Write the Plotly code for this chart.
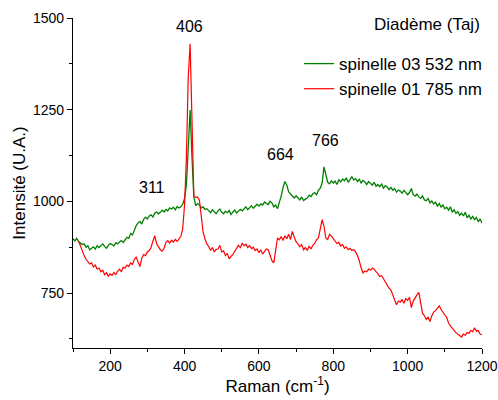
import plotly.graph_objects as go

green_x = list(range(100, 1205, 5))
green_y = [
    898, 892, 899, 890, 886, 882, 884, 875, 879, 868,
    872, 876, 870, 879, 874, 878, 884, 877, 872, 880,
    885, 882, 878, 887, 884, 889, 893, 888, 897, 902,
    899, 912, 908, 922, 934, 941, 945, 938, 951, 957,
    952, 960, 963, 957, 968, 971, 966, 970, 976, 971,
    978, 974, 982, 979, 984, 977, 986, 982, 985, 992,
    1008, 1045, 1160, 1249, 1120, 1012, 988, 994, 990, 982,
    985, 978, 980, 973, 969, 977, 971, 966, 974, 979,
    970, 966, 973, 969, 975, 964, 971, 976, 968, 972,
    978, 974, 980, 985, 977, 983, 988, 981, 986, 992,
    987, 993, 990, 998, 994, 991, 1000, 996, 985, 990,
    980, 996, 1015, 1038, 1054, 1044, 1026, 1020, 1014, 1009,
    1015, 1008, 1004, 1012, 1002, 1006, 1009, 1017, 1013, 1020,
    1024, 1018, 1030, 1036, 1050, 1094, 1068, 1052, 1048, 1056,
    1050, 1055, 1046, 1059, 1053, 1061, 1056, 1064, 1052, 1060,
    1067, 1058, 1062, 1054, 1060, 1050, 1057, 1053, 1046, 1054,
    1049, 1044, 1052, 1041, 1046, 1040, 1047, 1036, 1043, 1039,
    1032, 1038, 1030, 1035, 1025, 1031, 1028, 1022, 1030, 1024,
    1018, 1024, 1035, 1018, 1014, 1020, 1012, 1008, 1015, 1004,
    1002, 1008, 996, 1001, 993, 998, 987, 994, 984, 990,
    980, 984, 976, 985, 970, 977, 967, 972, 962, 968,
    960, 970, 955, 962, 952, 959, 950, 956, 944, 952,
    940,
]

red_x = list(range(115, 1205, 5))
red_y = [
    892, 878, 862, 852, 842, 836, 829, 832, 821, 826,
    815, 818, 808, 812, 800, 805, 796, 802, 798, 806,
    800, 810, 815, 808, 820, 818, 826, 822, 832, 828,
    842, 848, 836, 822, 845, 855, 852, 862, 866, 874,
    892, 906, 884, 874, 868, 864, 872, 888, 893, 886,
    894, 889, 896, 891, 897, 904, 925, 990, 1120, 1340,
    1430, 1180, 1015, 1010, 1012, 1003, 965, 915, 898, 884,
    877, 866, 874, 862, 869, 870, 880, 862, 865, 852,
    858, 843, 850, 855, 864, 872, 880, 874, 886, 879,
    883, 874, 879, 871, 875, 866, 870, 860, 868, 856,
    862, 870, 868, 850, 838, 832, 870, 900, 895, 904,
    893, 906, 898, 910, 896, 918, 902, 890, 884, 876,
    882, 868, 874, 866, 878, 870, 880, 885, 895, 900,
    925, 950, 932, 900, 896, 910, 905, 898, 892, 885,
    888, 878, 882, 872, 876, 868, 872, 866, 868, 862,
    852, 838, 818, 805, 810, 808, 815, 812, 818, 815,
    808, 803, 795, 797, 789, 782, 772, 763, 758, 745,
    730, 718, 728, 725, 732, 722, 735, 730, 738, 710,
    728, 738, 745, 752, 720, 695, 688, 678, 684, 672,
    688, 698, 702, 710, 715, 705, 696, 690, 684, 668,
    660, 655, 648, 642, 638, 632, 630, 638, 635, 642,
    640, 648, 644, 655, 646, 648, 638, 636,
]

peak_labels = ["406", "311", "664", "766"]
peak_label_x = [413, 312, 657, 780]
peak_label_y = [1478, 1039, 1129, 1167]

FONT = "Liberation Sans, Arial, sans-serif"

fig = go.Figure()
fig.add_trace(go.Scatter(x=green_x, y=green_y, mode="lines", name="spinelle 03 532 nm",
                         line=dict(color="#008000", width=1.3)))
fig.add_trace(go.Scatter(x=red_x, y=red_y, mode="lines", name="spinelle 01 785 nm",
                         line=dict(color="#ff0000", width=1.2)))

for t, xx, yy in zip(peak_labels, peak_label_x, peak_label_y):
    fig.add_annotation(x=xx, y=yy, text=t, showarrow=False,
                       font=dict(family=FONT, size=16, color="black"))

fig.add_annotation(xref="x domain", yref="y domain", x=1.0, y=0.98,
                   xanchor="right", yanchor="middle", text="Diadème (Taj)",
                   showarrow=False, font=dict(family=FONT, size=17, color="black"))

fig.update_layout(
    width=498, height=400,
    margin=dict(l=73, r=15, t=18, b=52),
    paper_bgcolor="white", plot_bgcolor="white",
    font=dict(family=FONT, size=14, color="black"),
    showlegend=True,
    legend=dict(x=1.01, xanchor="right", y=0.915, yanchor="top",
                bgcolor="rgba(0,0,0,0)", font=dict(family=FONT, size=17),
                tracegroupgap=0, itemwidth=30),
)
fig.update_xaxes(range=[100, 1200], showgrid=False, zeroline=False, automargin=False,
                 showline=True, linecolor="black", linewidth=1.3,
                 ticks="outside", ticklen=5, tickcolor="black", tickwidth=1.3,
                 tick0=0, dtick=200, tickfont=dict(size=14), ticklabeloverflow="allow",
                 minor=dict(ticks="outside", ticklen=3, dtick=100, tick0=0, tickcolor="black"),
                 title=dict(text="Raman (cm<sup>-1</sup>)", font=dict(family=FONT, size=17), standoff=6))
fig.update_yaxes(range=[600, 1500], showgrid=False, zeroline=False, automargin=False,
                 showline=True, linecolor="black", linewidth=1.3,
                 ticks="outside", ticklen=5, tickcolor="black", tickwidth=1.3,
                 tick0=0, dtick=250, tickfont=dict(size=14), ticklabeloverflow="allow",
                 minor=dict(ticks="outside", ticklen=3, dtick=125, tick0=0, tickcolor="black"),
                 title=dict(text="Intensité (U.A.)", font=dict(family=FONT, size=17), standoff=2))

fig.write_html("out.html", config={"displayModeBar": False},
               post_script="document.body.style.margin='0px';")
